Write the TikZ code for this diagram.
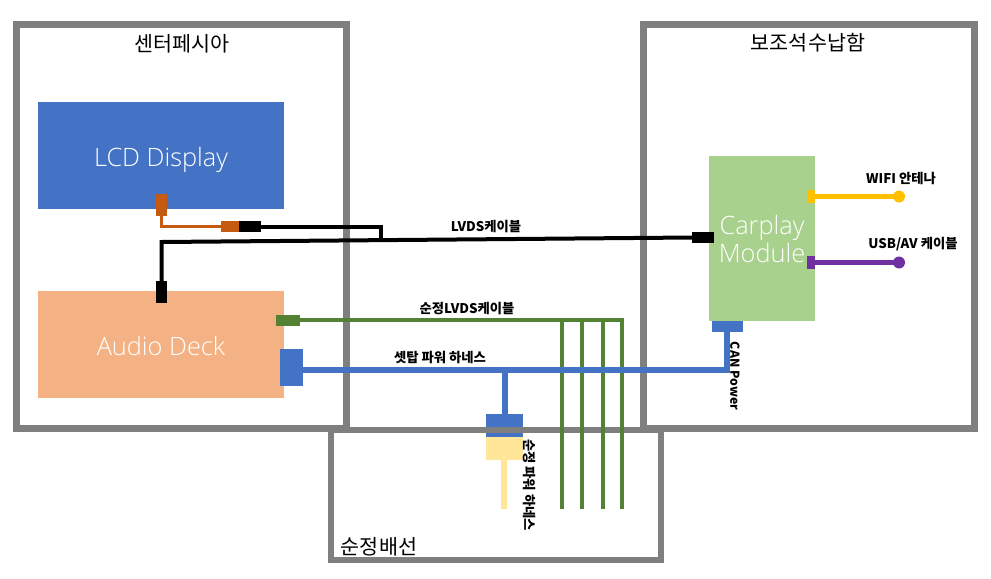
\documentclass[tikz,border=0pt]{standalone}
\usepackage{fontspec}
\setmainfont{Noto Sans CJK KR}
\newfontfamily\latinlight{Open Sans Light}
\definecolor{cgray}{HTML}{7F7F7F}
\definecolor{cblue}{HTML}{4472C4}
\definecolor{cpeach}{HTML}{F4B183}
\definecolor{clime}{HTML}{A9D18E}
\definecolor{cgreen}{HTML}{548235}
\definecolor{cbrown}{HTML}{C55A11}
\definecolor{cgold}{HTML}{FFC000}
\definecolor{cpurple}{HTML}{7030A0}
\definecolor{ccream}{HTML}{FFE699}
\tikzset{
  x=0.75pt,y=-0.75pt,
  zone/.style={draw=cgray,line width=5.25pt,fill=none,inner sep=0pt},
  block/.style={inner sep=0pt,outer sep=0pt,text=white,align=center,font=\latinlight\fontsize{19}{21}\selectfont},
  oneline/.style={text height=18.6pt,text depth=2.8pt},
  plug/.style={fill=#1,inner sep=0pt,outer sep=0pt,minimum size=0pt},
  zonetitle/.style={font=\fontsize{15.5}{17}\selectfont,inner sep=0pt},
  tag/.style={font=\bfseries\fontsize{10}{12}\selectfont,inner sep=0pt},
  wire/.style={line width=#1,line cap=butt,line join=miter},
  tip/.style={circle,fill=#1,minimum size=9pt,inner sep=0pt,outer sep=0pt},
}
\newcommand{\boxat}[6]{\node[#1,minimum width=#4*0.75pt,minimum height=#5*0.75pt,anchor=north west] (#2) at (#3) {#6};}
\begin{document}
\begin{tikzpicture}
\useasboundingbox (0,0) rectangle (991,578);
% blocks
\boxat{block,oneline,fill=cblue}{lcd}{38,102}{246}{107}{LCD Display}
\boxat{block,oneline,fill=cpeach}{deck}{38,291}{246}{107}{Audio Deck}
\boxat{block,fill=clime}{carplay}{709,156}{106}{165}{Carplay\\Module}
% connector anchors
\coordinate (bustap) at (505,369.5);
\coordinate (busR) at (726.5,369.5);
\coordinate (cornerA) at (161.5,242);
\coordinate (joinB) at (381,240);
\coordinate (g1) at (562,320); \coordinate (g1e) at (562,509);
\coordinate (g2) at (582,320); \coordinate (g2e) at (582,509);
\coordinate (g3) at (603,320); \coordinate (g3e) at (603,509);
\coordinate (g4) at (622,320); \coordinate (g4e) at (622,509);
\coordinate (ye) at (504,509);
% plugs
\boxat{plug=cbrown}{pbrownA}{156,194}{11}{22}{}
\boxat{plug=cbrown}{pbrownB}{221,221}{18}{11}{}
\boxat{plug=black}{pblackA}{239,221}{22}{11}{}
\boxat{plug=black}{pblackB}{156,281}{11}{22}{}
\boxat{plug=black}{pblackC}{692,232}{22}{11}{}
\boxat{plug=cgreen}{pgreen}{276,314.5}{24}{11}{}
\boxat{plug=cblue}{pblue}{280,349}{23}{37}{}
\boxat{plug=cblue}{pcan}{712,321}{31}{11}{}
\boxat{plug=cblue}{pfac}{486,414}{37}{23}{}
\boxat{plug=ccream}{pcream}{486,437}{37}{23}{}
\boxat{plug=cgold}{pgold}{807,190}{8}{13}{}
\boxat{plug=cpurple}{ppurple}{807,256}{8}{13}{}
\node[tip=cgold] (tipgold) at (899,196.5) {};
\node[tip=cpurple] (tippurple) at (899,262.5) {};
% zones
\node[zone,minimum width=247.5pt,minimum height=303pt,anchor=north west] (zoneA) at (13,21) {};
\node[zone,minimum width=248.25pt,minimum height=303pt,anchor=north west] (zoneB) at (640,21) {};
\node[zone,line width=4.4pt,minimum width=247.5pt,minimum height=97.5pt,anchor=north west] (zoneC) at (328,427) {};
% wires
\draw[wire=2.5pt,cbrown] (pbrownA.south) |- (pbrownB.west);
\draw[wire=3pt,black] (pblackA.east) -| (joinB);
\draw[wire=3pt,black] (pblackC.west) -- (cornerA) -- (pblackB.north);
\draw[wire=3.2pt,cgreen] (pgreen.east) -- (g4) -- (g4e);
\draw[wire=3.2pt,cgreen] (g1) -- (g1e);
\draw[wire=3.2pt,cgreen] (g2) -- (g2e);
\draw[wire=3.2pt,cgreen] (g3) -- (g3e);
\draw[wire=4.5pt,cblue] (pblue.east|-busR) -- (busR) -- (pcan.south-|busR);
\draw[wire=4.5pt,cblue] (bustap) -- (pfac.north-|bustap);
\draw[wire=4.3pt,ccream] (pcream.south-|ye) -- (ye);
\draw[wire=3.2pt,cgold] (pgold.east) -- (pgold.east-|tipgold);
\draw[wire=3.2pt,cpurple] (ppurple.east) -- (ppurple.east-|tippurple);
% labels
\node[zonetitle] (t1) at (182,44) {센터페시아};
\node[zonetitle] (t2) at (808,43) {보조석수납함};
\node[zonetitle] (t3) at (379,547) {순정배선};
\node[tag] (l1) at (486,227) {LVDS케이블};
\node[tag] (l2) at (467,309) {순정LVDS케이블};
\node[tag] (l3) at (440,358) {셋탑 파워 하네스};
\node[tag] (l4) at (901,178) {WIFI 안테나};
\node[tag] (l5) at (913,244) {USB/AV 케이블};
\node[tag,font=\bfseries\fontsize{9.2}{11}\selectfont,rotate=-90] (l6) at (735,376) {CAN Power};
\node[tag,rotate=-90] (l7) at (529,485) {순정 파워 하네스};
\end{tikzpicture}
\end{document}
